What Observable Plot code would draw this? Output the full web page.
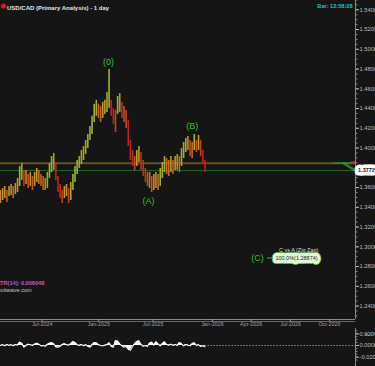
<!DOCTYPE html>
<html><head><meta charset="utf-8">
<script src="https://cdn.jsdelivr.net/npm/d3@7"></script>
<script src="https://cdn.jsdelivr.net/npm/@observablehq/plot@0.6"></script>
<style>
html,body{margin:0;padding:0;background:#151515;}
#chart{position:relative;width:375px;height:366px;overflow:hidden;background:#151515;}
#chart svg{position:absolute;left:0;}
</style></head><body><div id="chart"></div>
<script>
// Weekly price ranges (USD/CAD)
const weekHigh = [1.3570,1.3590,1.3610,1.3570,1.3610,1.3631,1.3610,1.3641,1.3692,1.3813,
 1.3843,1.3773,1.3773,1.3732,1.3752,1.3712,1.3752,1.3793,1.3773,1.3732,
 1.3712,1.3692,1.3752,1.3843,1.3914,1.3945,1.3854,1.3712,1.3631,1.3570,
 1.3610,1.3631,1.3590,1.3651,1.3732,1.3813,1.3874,1.3914,1.3975,1.4016,
 1.4076,1.4137,1.4219,1.4321,1.4443,1.4483,1.4443,1.4422,1.4463,1.4483,
 1.4562,1.4795,1.4483,1.4402,1.4381,1.4522,1.4552,1.4463,1.4422,1.4381,
 1.4280,1.4076,1.3975,1.3914,1.3975,1.4016,1.3955,1.3874,1.3793,1.3752,
 1.3752,1.3712,1.3732,1.3752,1.3732,1.3793,1.3854,1.3914,1.3894,1.3874,
 1.3914,1.3874,1.3914,1.3935,1.3914,1.3995,1.4056,1.4097,1.4117,1.4076,
 1.4056,1.4137,1.4076,1.4127,1.4076,1.3975,1.3874];
const weekLow = [1.3438,1.3469,1.3489,1.3448,1.3509,1.3519,1.3489,1.3529,1.3550,1.3610,
 1.3671,1.3610,1.3631,1.3590,1.3610,1.3570,1.3610,1.3651,1.3631,1.3610,
 1.3570,1.3570,1.3590,1.3692,1.3752,1.3773,1.3671,1.3550,1.3489,1.3438,
 1.3489,1.3509,1.3438,1.3469,1.3570,1.3651,1.3732,1.3793,1.3833,1.3874,
 1.3935,1.3995,1.4076,1.4137,1.4259,1.4321,1.4300,1.4259,1.4300,1.4341,
 1.4361,1.4402,1.4321,1.4239,1.4158,1.4341,1.4361,1.4300,1.4259,1.4198,
 1.4016,1.3874,1.3813,1.3773,1.3813,1.3854,1.3773,1.3712,1.3651,1.3610,
 1.3590,1.3550,1.3570,1.3590,1.3570,1.3610,1.3692,1.3752,1.3732,1.3712,
 1.3752,1.3732,1.3773,1.3773,1.3752,1.3813,1.3894,1.3955,1.3975,1.3914,
 1.3894,1.3975,1.3955,1.3975,1.3914,1.3833,1.3752];
const lastClose = 1.3772;
const levelResistance = 1.3847;

// Oscillator (lower panel), one value per week
const oscValues = [0,0.0012,-0.0006,0.0017,0,0.0012,-0.0006,0.0017,0.0006,0.0058,
 0.004,-0.0029,0,0.0023,0.0012,0,0.0023,0.004,0.0023,-0.0006,
 0,-0.0012,0.0017,0.004,0.0046,0.0029,-0.0023,-0.0029,-0.0012,0.0017,
 0.0029,0.0012,0.0006,0.0029,0.007,0.0052,0.0012,0,0.0017,-0.0006,
 0.0012,-0.0012,-0.0029,0.0012,0.0052,0.0046,0.0012,0,-0.0006,0.0006,
 0.0012,0.0046,-0.0017,-0.0029,0.0081,0.0075,0.0029,-0.0006,-0.0029,-0.0017,
 -0.0064,-0.0081,-0.0017,0.0029,0.007,0.0081,0.0017,-0.0012,0,-0.0017,
 0.004,0.0058,0.0006,0.0064,0.0029,-0.0006,0.0029,0.0064,0.0017,0.0006,
 0.0023,0,0.0017,0,0.0052,0.0029,-0.0006,0.0017,0.0006,-0.0006,
 0.0029,0.0046,0,0.0012,-0.0017,-0.0006,-0.0023];

// Axes
const xTickLabels = ["Jul-2024","Jan-2025","Jul-2025","Jan-2026","Apr-2026","Jul-2026","Oct-2026"];
const xTickPos = [19.6,46.1,71.7,99.5,117.7,136.2,154.5];
const xMax = 166.7;
const yTickValues = [1.24,1.26,1.28,1.30,1.32,1.34,1.36,1.38,1.40,1.42,1.44,1.46,1.48,1.50,1.52,1.54];
const yMinorTicks = d3.range(1.23, 1.551, 0.005);
const oscTicks = [-0.02, 0, 0.02];
const oscMinorTicks = d3.range(-0.025, 0.0251, 0.005);

// Wave labels
const waveText = ["(0)","(A)","(B)"];
const waveIdx = [50.7, 69.5, 90.1];
const waveY = [1.4866, 1.3459, 1.4218];
const cTarget = 1.28874;
const cIdx = 120.7;
const cConnector = [125.4, 129.4];
const cBoxIdx = 139;

const font = "Liberation Sans, Arial, sans-serif";
const bars = weekHigh.map((h, i) => {
  const mid = (h + weekLow[i]) / 2;
  const prev = i > 0 ? (weekHigh[i-1] + weekLow[i-1]) / 2 : mid;
  return {i, high: h, low: weekLow[i], change: mid - prev};
});
const osc = oscValues.map((v, i) => ({i, v}));

const main = Plot.plot({
  width: 375, height: 328,
  marginLeft: 0, marginRight: 20, marginTop: 0, marginBottom: 9,
  style: {background: "transparent", color: "#aaa", fontFamily: font},
  x: {domain: [0, xMax], axis: null},
  y: {domain: [1.22638, 1.54942], axis: null},
  color: {type: "linear", domain: [-0.008, 0, 0.008], range: ["#c4221c", "#cc8420", "#9ab82a"], clamp: true},
  marks: [
    Plot.ruleY([levelResistance], {x1: 0, x2: xMax, stroke: "#5a5522", strokeWidth: 2}),
    Plot.ruleY([lastClose], {x1: 0, x2: xMax, stroke: "#1e6a1e", strokeWidth: 1}),
    Plot.link([{a: 156, b: xMax, y: levelResistance}], {x1: "a", x2: "b", y1: "y", y2: "y", stroke: "#22a022", strokeWidth: 1.5, strokeOpacity: 0.8}),
    Plot.link([{a: 161, b: xMax, y1: levelResistance, y2: lastClose}], {x1: "a", x2: "b", y1: "y1", y2: "y2", stroke: "#2ab02a", strokeWidth: 2.5, strokeOpacity: 0.7}),
    Plot.link([{a: 164.5, b: xMax, y: levelResistance + 0.0008}], {x1: "a", x2: "b", y1: "y", y2: "y", stroke: "#e02020", strokeWidth: 2}),
    Plot.ruleX(bars, {x: "i", y1: "low", y2: "high", stroke: "change", strokeWidth: 1.6}),
    Plot.text(waveText, {x: (d, i) => waveIdx[i], y: (d, i) => waveY[i], text: d => d, fill: "#2bc52b", fontSize: 9, fontFamily: font}),
    Plot.text(["(C)"], {x: cIdx, y: cTarget, text: d => d, fill: "#2bc52b", fontSize: 9, fontFamily: font}),
    Plot.ruleY([cTarget], {x1: cConnector[0], x2: cConnector[1], stroke: "#aaa", strokeWidth: 0.8}),
    Plot.text(["C vs A (Zig Zag)"], {x: cBoxIdx + 1, y: cTarget, dy: -8, text: d => d, fill: "#ddd", fontSize: 5.5, fontFamily: font}),
    Plot.text(["100.0%(1.28874)"], {x: cBoxIdx, y: cTarget, text: d => d, fill: "#1a3a1a", stroke: "#3aa03a", strokeWidth: 8, fontSize: 5.5, fontFamily: font}),
    Plot.text(["100.0%(1.28874)"], {x: cBoxIdx, y: cTarget, text: d => d, fill: "#1a2a1a", stroke: "#e2f7da", strokeWidth: 6.4, fontSize: 5.5, fontFamily: font}),
    Plot.ruleX([xMax], {stroke: "#888", strokeWidth: 1}),
    Plot.ruleY([1.22638], {x1: 0, x2: xMax, stroke: "#888", strokeWidth: 1}),
    Plot.ruleY([1.22638], {x1: 0, x2: xMax, stroke: "#666", strokeWidth: 1, dy: 2}),
    Plot.link(yMinorTicks, {x1: xMax, x2: xMax, y1: d => d, y2: d => d, stroke: "#888", strokeWidth: 1, dx: 0.5, insetRight: 0}),
    Plot.axisY({anchor: "right", ticks: yMinorTicks, tickSize: 1.5, stroke: "#888", tickFormat: null, fill: "none"}),
    Plot.axisY({anchor: "right", ticks: yTickValues, tickFormat: d => d.toFixed(4), tickSize: 3, tickPadding: 1, fontSize: 5.8, color: "#bdbdbd", textAnchor: "start"}),
    Plot.axisX({anchor: "bottom", ticks: xTickPos, tickFormat: d => xTickLabels[xTickPos.indexOf(d)], tickSize: 2, tickPadding: 1, fontSize: 5.4, color: "#a0a0a0"}),
    Plot.text([lastClose], {x: xMax, y: d => d, dx: 11, text: d => d.toFixed(4), fill: "#111", stroke: "#fff", strokeWidth: 7, fontSize: 5.5, fontWeight: "bold", fontFamily: font}),
    Plot.dot([0], {frameAnchor: "top-left", dx: 3, dy: 5.5, r: 2.6, fill: "#e01818"}),
    Plot.text(["USD/CAD (Primary Analysis) - 1 day"], {frameAnchor: "top-left", dx: 6.5, dy: 5.5, text: d => d, textAnchor: "start", fill: "#e6e6e6", fontSize: 6, fontWeight: "bold", fontFamily: font}),
    Plot.text(["Bar: 12:58:28"], {frameAnchor: "top-right", dx: -3, dy: 4, text: d => d, textAnchor: "end", fill: "#18c4d4", fontSize: 5.6, fontWeight: "bold", fontFamily: font}),
    Plot.text(["ATR(14): 0.006048"], {frameAnchor: "bottom-left", dx: -4, dy: -35, text: d => d, textAnchor: "start", fill: "#c458c8", fontSize: 5.6, fontWeight: "bold", fontFamily: font}),
    Plot.text(["elliottwave.com"], {frameAnchor: "bottom-left", dx: -7, dy: -28, text: d => d, textAnchor: "start", fill: "#c8c8c8", fontSize: 5.6, fontFamily: font})
  ]
});

const lower = Plot.plot({
  width: 375, height: 38,
  marginLeft: 0, marginRight: 20, marginTop: 0, marginBottom: 0,
  style: {background: "transparent", color: "#aaa", fontFamily: font},
  x: {domain: [0, xMax], axis: null},
  y: {domain: [-0.03605, 0.02918], axis: null},
  marks: [
    Plot.ruleY([0], {x1: osc.length - 1, x2: xMax, stroke: "#aaa", strokeDasharray: "1.5,1.5", strokeWidth: 0.8}),
    Plot.areaY(osc, {x: "i", y: "v", fill: "#fff"}),
    Plot.lineY(osc, {x: "i", y: "v", stroke: "#fff", strokeWidth: 1.1}),
    Plot.ruleX([xMax], {stroke: "#888", strokeWidth: 1}),
    Plot.axisY({anchor: "right", ticks: oscMinorTicks, tickSize: 1.5, stroke: "#888", tickFormat: null, fill: "none"}),
    Plot.axisY({anchor: "right", ticks: oscTicks, tickFormat: d => d.toFixed(4), tickSize: 3, tickPadding: 1, fontSize: 5.8, color: "#bdbdbd", textAnchor: "start"})
  ]
});

const chart = document.getElementById("chart");
main.style.top = "0px";
lower.style.top = "328px";
chart.appendChild(main);
chart.appendChild(lower);
</script></body></html>
